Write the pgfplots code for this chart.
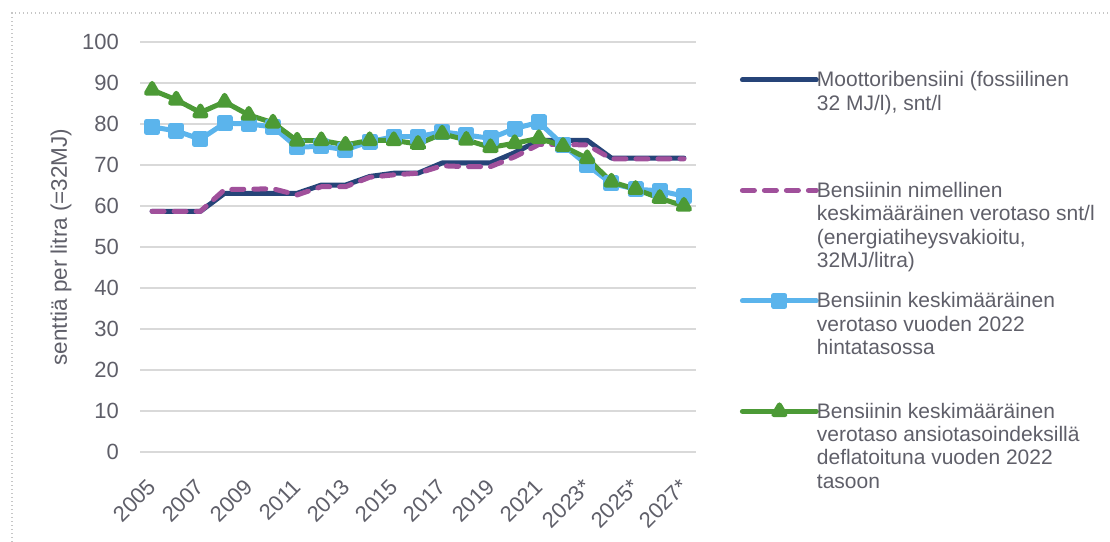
\documentclass[border=0pt]{standalone}
\usepackage{pgfplots}
\pgfplotsset{compat=1.18}
\usepackage{fontspec}
\setmainfont{Liberation Sans}

\definecolor{txt}{RGB}{95,95,105}
\definecolor{gridc}{RGB}{217,217,217}
\definecolor{darkblue}{RGB}{38,68,120}
\definecolor{plum}{RGB}{160,80,155}
\definecolor{skyblue}{RGB}{91,180,236}
\definecolor{leafgreen}{RGB}{76,154,54}

% legend text: each row reserves a fixed height above its first baseline, the lines hang below
\newcommand\legtext[1]{\raisebox{0pt}[105bp][0pt]{\parbox[t]{290bp}{\fontsize{21bp}{23.3bp}\selectfont #1}}}

\begin{document}
\begin{tikzpicture}
\useasboundingbox (0,0) rectangle (1110bp,542bp);
\draw[gray!45, line width=1.2bp, dash pattern=on 1.4bp off 2.6bp] (12bp,0) -- (12bp,529bp) -- (1110bp,529bp);
\begin{axis}[
    at={(140bp,90bp)}, anchor=south west,
    scale only axis,
    width=556bp, height=410bp,
    xmin=-0.5, xmax=22.5,
    ymin=0, ymax=100,
    axis line style={draw=none},
    major tick length=0pt,
    ytick={0,10,...,100},
    xtick={0,2,...,22},
    xticklabels={2005,2007,2009,2011,2013,2015,2017,2019,2021,2023*,2025*,2027*},
    ymajorgrids,
    grid style={color=gridc, line width=1.5bp},
    /pgf/number format/assume math mode=true,
    ticklabel style={font=\fontsize{22bp}{26bp}\selectfont, text=txt},
    yticklabel style={anchor=east, inner sep=0pt, xshift=-21bp},
    xticklabel style={xshift=0bp, yshift=-31bp, rotate=45, anchor=east, inner sep=0pt},
    ylabel={senttiä per litra (=32MJ)},
    ylabel style={at={(axis description cs:-0.142,0.5)}, anchor=center, font=\fontsize{22.5bp}{26bp}\selectfont, text=txt},
    legend style={draw=none, fill=none, inner sep=0pt, outer sep=0pt,
        at={(axis description cs:1.079,1.1513)}, anchor=north west,
        row sep=0pt, column sep=-4bp, text=txt,
        cells={anchor=base west}},
    legend image code/.code={\draw[mark repeat=2, mark phase=2, #1] plot coordinates {(0bp,7bp) (37bp,7bp) (74bp,7bp)};},
    every axis plot/.append style={line width=5bp, line cap=round, line join=round},
]
% Moottoribensiini
\addplot[color=darkblue, mark=none] coordinates {
    (0,58.7) (1,58.7) (2,58.7) (3,63.1) (4,63.1) (5,63.1) (6,63.1) (7,65.1) (8,65.1)
    (9,67.2) (10,68) (11,68) (12,70.5) (13,70.5) (14,70.5) (15,73) (16,76) (17,76)
    (18,76) (19,71.7) (20,71.7) (21,71.7) (22,71.7)
};
\addlegendentry{\legtext{Moottoribensiini (fossiilinen\\32 MJ/l), snt/l}}

% nimellinen verotaso
\addplot[color=plum, mark=none, dash pattern=on 12bp off 10bp] coordinates {
    (0,58.7) (1,58.7) (2,58.7) (3,64) (4,64.1) (5,64.2) (6,62.7) (7,64.7) (8,64.7)
    (9,67) (10,67.6) (11,68) (12,69.8) (13,69.6) (14,69.6) (15,72) (16,75) (17,75)
    (18,74.9) (19,71.5) (20,71.5) (21,71.5) (22,71.5)
};
\addlegendentry{\legtext{Bensiinin nimellinen\\keskimääräinen verotaso snt/l\\(energiatiheysvakioitu,\\32MJ/litra)}}

% 2022 hintatasossa
\addplot[color=skyblue, mark=square*, mark size=5.5bp, mark options={solid}] coordinates {
    (0,79.3) (1,78.3) (2,76.3) (3,80.2) (4,80) (5,79.3) (6,74.3) (7,74.6) (8,73.7)
    (9,75.7) (10,76.9) (11,76.9) (12,78.1) (13,77.3) (14,76.5) (15,78.9) (16,80.4) (17,74.9)
    (18,70) (19,65.5) (20,64.1) (21,63.7) (22,62.4)
};
\addlegendentry{\legtext{Bensiinin keskimääräinen\\verotaso vuoden 2022\\hintatasossa}}

% ansiotasoindeksillä deflatoituna
\addplot[color=leafgreen, mark=triangle*, mark size=6.5bp, mark options={solid}] coordinates {
    (0,88.3) (1,85.9) (2,82.8) (3,85.4) (4,82.2) (5,80.3) (6,75.9) (7,76) (8,74.9)
    (9,76) (10,76) (11,75.1) (12,77.6) (13,76.1) (14,74.3) (15,75.3) (16,76.5) (17,74.6)
    (18,71.6) (19,65.9) (20,64.1) (21,61.9) (22,60)
};
\addlegendentry{\legtext{Bensiinin keskimääräinen\\verotaso ansiotasoindeksillä\\deflatoituna vuoden 2022\\tasoon}}
\end{axis}
\end{tikzpicture}
\end{document}
